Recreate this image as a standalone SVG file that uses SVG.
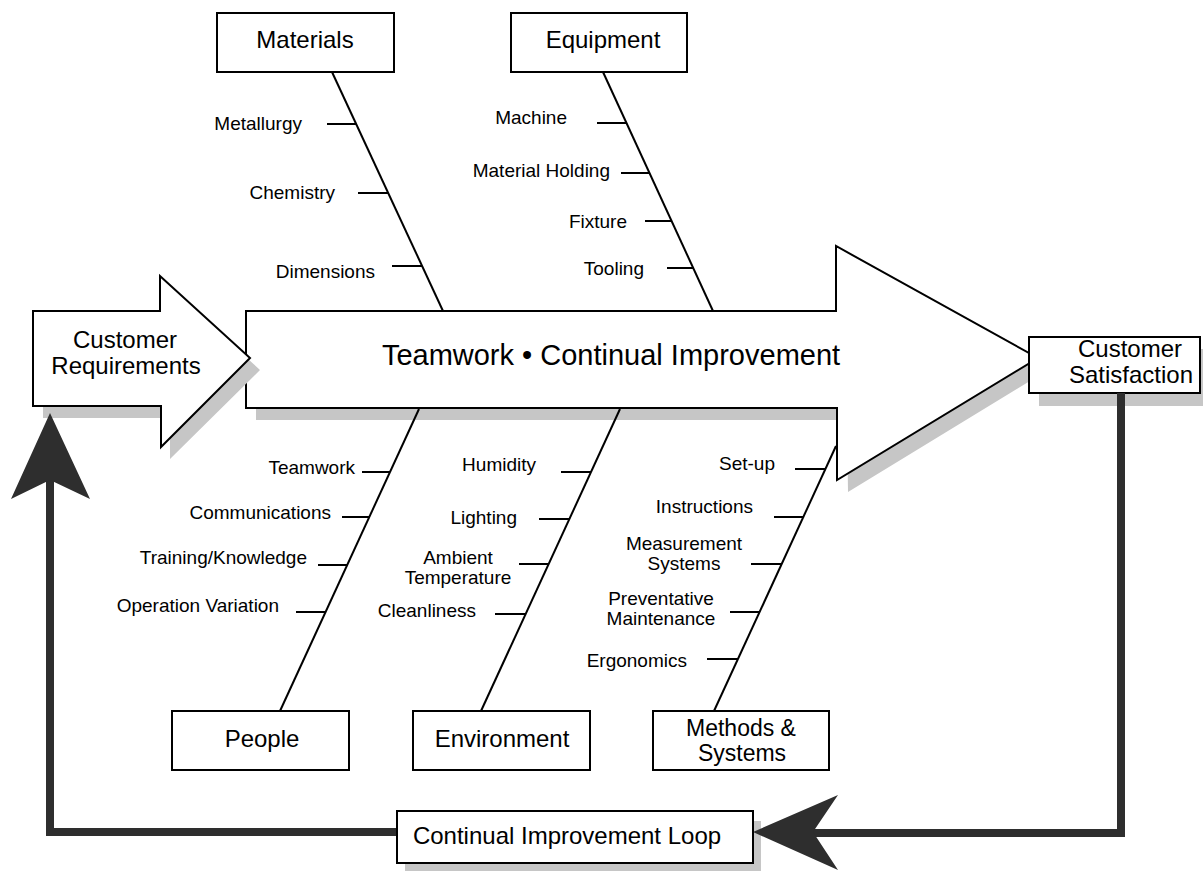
<svg xmlns="http://www.w3.org/2000/svg" width="1203" height="871" viewBox="0 0 1203 871">
<style>
  .box{fill:#fff;stroke:#000;stroke-width:2}
  .arrow{fill:#fff;stroke:#000;stroke-width:2;stroke-linejoin:miter}
  .shadow{fill:#c6c6c6;stroke:none}
  .bone{stroke:#000;stroke-width:2;fill:none}
  .tick{stroke:#000;stroke-width:2;fill:none}
  .loop{stroke:#2e2e2e;stroke-width:8;fill:none;stroke-linejoin:miter}
  .head{fill:#2e2e2e;stroke:none}
  .big{font-family:"Liberation Sans",Arial,sans-serif;font-size:24px;fill:#000;text-anchor:middle}
  .title{font-family:"Liberation Sans",Arial,sans-serif;font-size:29px;fill:#000;text-anchor:middle}
  .lbl{font-family:"Liberation Sans",Arial,sans-serif;font-size:19px;fill:#000;text-anchor:end}
  .lblc{font-family:"Liberation Sans",Arial,sans-serif;font-size:19px;fill:#000;text-anchor:middle}
</style>
<rect width="1203" height="871" fill="#fff"/>

<!-- shadows -->
<g id="shadows">
  <polygon class="shadow" points="256,323 846,323 846,258 1048,370 848,492 847,420 256,420"/>
  <rect class="shadow" x="1039" y="349" width="164" height="57"/>
  <rect class="shadow" x="405" y="821" width="356" height="50"/>
</g>

<!-- main arrow -->
<g id="main-arrow">
  <polygon class="arrow" points="246,311 836,311 836,246 1038,358 837,480 837,408 246,408"/>
  <text class="title" x="611" y="365">Teamwork • Continual Improvement</text>
</g>

<!-- customer requirements -->
<g id="customer-requirements">
  <polygon class="shadow" points="43,323 170,323 170,288 260,370 170,459 170,418 43,418"/>
  <polygon class="arrow" points="33,311 160,311 160,276 250,358 161,447 161,406 33,406"/>
  <text class="big" x="125" y="348">Customer</text>
  <text class="big" x="126" y="374">Requirements</text>
</g>

<!-- customer satisfaction -->
<g id="customer-satisfaction">
  <rect class="box" x="1029" y="337" width="171" height="56"/>
  <text class="big" x="1130" y="357">Customer</text>
  <text class="big" x="1131" y="383">Satisfaction</text>
</g>

<!-- connectors -->
<g id="connectors">
  <!-- main bones -->
  <line class="bone" x1="332" y1="72" x2="443" y2="311"/>
  <line class="bone" x1="603" y1="72" x2="713" y2="311"/>
  <line class="bone" x1="280" y1="711" x2="419" y2="409"/>
  <line class="bone" x1="481" y1="711" x2="620" y2="409"/>
  <line class="bone" x1="714" y1="711" x2="836" y2="446"/>
  <!-- materials ticks -->
  <line class="tick" x1="327" y1="124" x2="356" y2="124"/>
  <line class="tick" x1="358" y1="193" x2="388" y2="193"/>
  <line class="tick" x1="392" y1="266" x2="422" y2="266"/>
  <!-- equipment ticks -->
  <line class="tick" x1="597" y1="123" x2="627" y2="123"/>
  <line class="tick" x1="621" y1="173" x2="650" y2="173"/>
  <line class="tick" x1="645" y1="221" x2="672" y2="221"/>
  <line class="tick" x1="667" y1="268" x2="694" y2="268"/>
  <!-- people ticks -->
  <line class="tick" x1="362" y1="472" x2="390" y2="472"/>
  <line class="tick" x1="342" y1="517" x2="370" y2="517"/>
  <line class="tick" x1="318" y1="565" x2="347" y2="565"/>
  <line class="tick" x1="296" y1="612" x2="326" y2="612"/>
  <!-- environment ticks -->
  <line class="tick" x1="561" y1="472" x2="591" y2="472"/>
  <line class="tick" x1="539" y1="519" x2="570" y2="519"/>
  <line class="tick" x1="519" y1="564" x2="549" y2="564"/>
  <line class="tick" x1="495" y1="614" x2="526" y2="614"/>
  <!-- methods ticks -->
  <line class="tick" x1="795" y1="469" x2="825" y2="469"/>
  <line class="tick" x1="774" y1="517" x2="803" y2="517"/>
  <line class="tick" x1="751" y1="564" x2="782" y2="564"/>
  <line class="tick" x1="730" y1="612" x2="760" y2="612"/>
  <line class="tick" x1="707" y1="659" x2="738" y2="659"/>
  <!-- continual improvement loop -->
  <polyline class="loop" points="1121,393 1121,833 812,833"/>
  <polygon class="head" points="753,832 838,795 813,832 838,870"/>
  <polyline class="loop" points="397,832 50,832 50,478"/>
  <polygon class="head" points="50,413 90,499 50,480 11,499"/>
</g>

<!-- materials -->
<g id="materials">
  <rect class="box" x="217" y="13" width="177" height="59"/>
  <text class="big" x="305" y="48">Materials</text>
  <text class="lbl" x="302" y="130">Metallurgy</text>
  <text class="lbl" x="335" y="199">Chemistry</text>
  <text class="lbl" x="375" y="278">Dimensions</text>
</g>

<!-- equipment -->
<g id="equipment">
  <rect class="box" x="511" y="13" width="176" height="59"/>
  <text class="big" x="603" y="48">Equipment</text>
  <text class="lbl" x="567" y="124">Machine</text>
  <text class="lbl" x="610" y="177">Material Holding</text>
  <text class="lbl" x="627" y="228">Fixture</text>
  <text class="lbl" x="644" y="275">Tooling</text>
</g>

<!-- people -->
<g id="people">
  <rect class="box" x="172" y="711" width="177" height="59"/>
  <text class="big" x="262" y="747">People</text>
  <text class="lbl" x="355" y="474">Teamwork</text>
  <text class="lbl" x="331" y="519">Communications</text>
  <text class="lbl" x="307" y="564">Training/Knowledge</text>
  <text class="lbl" x="279" y="612">Operation Variation</text>
</g>

<!-- environment -->
<g id="environment">
  <rect class="box" x="413" y="711" width="177" height="59"/>
  <text class="big" x="502" y="747">Environment</text>
  <text class="lbl" x="536" y="471">Humidity</text>
  <text class="lbl" x="517" y="524">Lighting</text>
  <text class="lblc" x="458" y="564">Ambient</text>
  <text class="lblc" x="458" y="584">Temperature</text>
  <text class="lbl" x="476" y="617">Cleanliness</text>
</g>

<!-- methods & systems -->
<g id="methods-systems">
  <rect class="box" x="653" y="711" width="176" height="59"/>
  <text class="big" x="741" y="736" style="font-size:23px">Methods &amp;</text>
  <text class="big" x="742" y="761" style="font-size:23px">Systems</text>
  <text class="lbl" x="775" y="470">Set-up</text>
  <text class="lbl" x="753" y="513">Instructions</text>
  <text class="lblc" x="684" y="550">Measurement</text>
  <text class="lblc" x="684" y="570">Systems</text>
  <text class="lblc" x="661" y="605">Preventative</text>
  <text class="lblc" x="661" y="625">Maintenance</text>
  <text class="lbl" x="687" y="667">Ergonomics</text>
</g>

<!-- loop label -->
<g id="continual-improvement-loop">
  <rect class="box" x="397" y="811" width="356" height="52"/>
  <text class="big" x="567" y="844">Continual Improvement Loop</text>
</g>
</svg>
